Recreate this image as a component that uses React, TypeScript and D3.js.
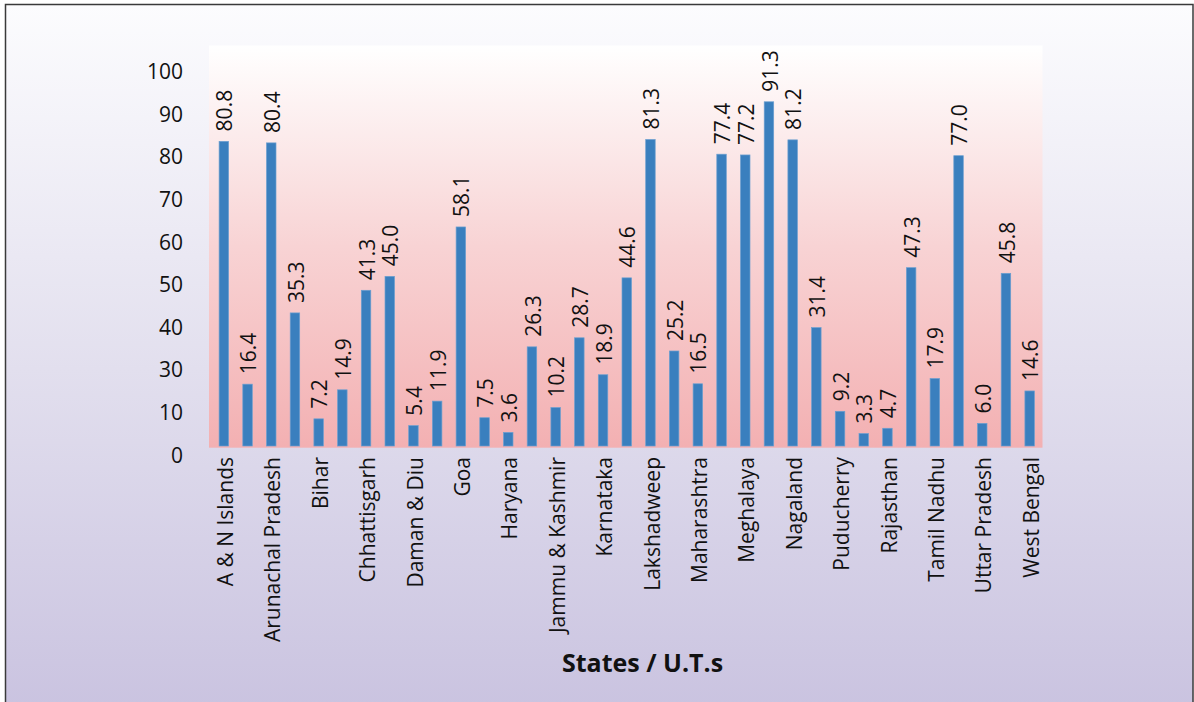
import React from "react";
import * as d3 from "d3";

const states: string[] = [
  "A & N Islands", "Andhra Pradesh", "Arunachal Pradesh", "Assam", "Bihar", "Chandigarh",
  "Chhattisgarh", "Dadra & Nagar Haveli", "Daman & Diu", "Delhi", "Goa", "Gujarat",
  "Haryana", "Himachal Pradesh", "Jammu & Kashmir", "Jharkhand", "Karnataka", "Kerala",
  "Lakshadweep", "Madhya Pradesh", "Maharashtra", "Manipur", "Meghalaya", "Mizoram",
  "Nagaland", "Odisha", "Puducherry", "Punjab", "Rajasthan", "Sikkim",
  "Tamil Nadhu", "Tripura", "Uttar Pradesh", "Uttarakhand", "West Bengal",
];

const values: number[] = [
  80.8, 16.4, 80.4, 35.3, 7.2, 14.9, 41.3, 45.0, 5.4, 11.9, 58.1, 7.5,
  3.6, 26.3, 10.2, 28.7, 18.9, 44.6, 81.3, 25.2, 16.5, 77.4, 77.2, 91.3,
  81.2, 31.4, 9.2, 3.3, 4.7, 47.3, 17.9, 77.0, 6.0, 45.8, 14.6,
];

const yTickLabels: string[] = ["100", "90", "80", "70", "60", "50", "40", "30", "10", "0"];

const xTitle = "States / U.T.s";

const W = 1194;
const H = 702;
const FONT = "'Open Sans', 'DejaVu Sans', sans-serif";

export default function App() {
  const plot = { left: 209, right: 1042.5, top: 45.5, bottom: 447.7 };
  const x = d3.scaleBand<string>().domain(states).range([212, 1041.5]).paddingInner(0.6).paddingOuter(0.3);
  const y = d3.scaleLinear().domain([0, 100]).range([446, 69]);
  const yLab = d3.scalePoint<string>().domain(yTickLabels).range([71.7, 455]);
  const bw = x.bandwidth();

  return (
    <svg width={W} height={H} style={{ position: "absolute", left: 0, top: 0 }} fontFamily={FONT}>
      <defs>
        <linearGradient id="outerG" x1="0" y1="0" x2="0" y2="1">
          <stop offset="0%" stopColor="#fcfcfe" />
          <stop offset="50%" stopColor="#e2dfee" />
          <stop offset="100%" stopColor="#c8c1df" />
        </linearGradient>
        <linearGradient id="plotG" x1="0" y1="0" x2="0" y2="1">
          <stop offset="0%" stopColor="#ffffff" />
          <stop offset="50%" stopColor="#f8d3d4" />
          <stop offset="100%" stopColor="#f3b0b2" />
        </linearGradient>
      </defs>
      <rect x={0} y={0} width={W} height={H} fill="#ffffff" />
      <rect x={5.5} y={4.5} width={1187.5} height={730} fill="url(#outerG)" stroke="#3a3a3a" strokeWidth={1.5} />
      <rect x={plot.left} y={plot.top} width={plot.right - plot.left} height={plot.bottom - plot.top} fill="url(#plotG)" />

      {yTickLabels.map((t) => (
        <text key={t} x={183} y={yLab(t)} dy="0.36em" textAnchor="end" fontSize={21} fill="#111">
          {t}
        </text>
      ))}

      {states.map((s, i) => {
        const bx = x(s)!;
        const v = values[i];
        const cx = bx + bw / 2;
        return (
          <g key={s}>
            <rect x={bx} y={y(v)} width={bw} height={y(0) - y(v)} fill="#3a7fbe" stroke="#6b9fd0" strokeWidth={0.7} />
            <text
              transform={`translate(${cx + 1},${y(v) - 10}) rotate(-90)`}
              dy="0.36em"
              textAnchor="start"
              fontSize={21}
              fill="#111"
            >
              {v.toFixed(1)}
            </text>
            {i % 2 === 0 && (
              <text
                transform={`translate(${cx + 1.5},457) rotate(-90)`}
                dy="0.36em"
                textAnchor="end"
                fontSize={21}
                fill="#111"
              >
                {s}
              </text>
            )}
          </g>
        );
      })}

      <text x={642.5} y={672} textAnchor="middle" fontSize={25} fontWeight="bold" fill="#111">
        {xTitle}
      </text>
    </svg>
  );
}
